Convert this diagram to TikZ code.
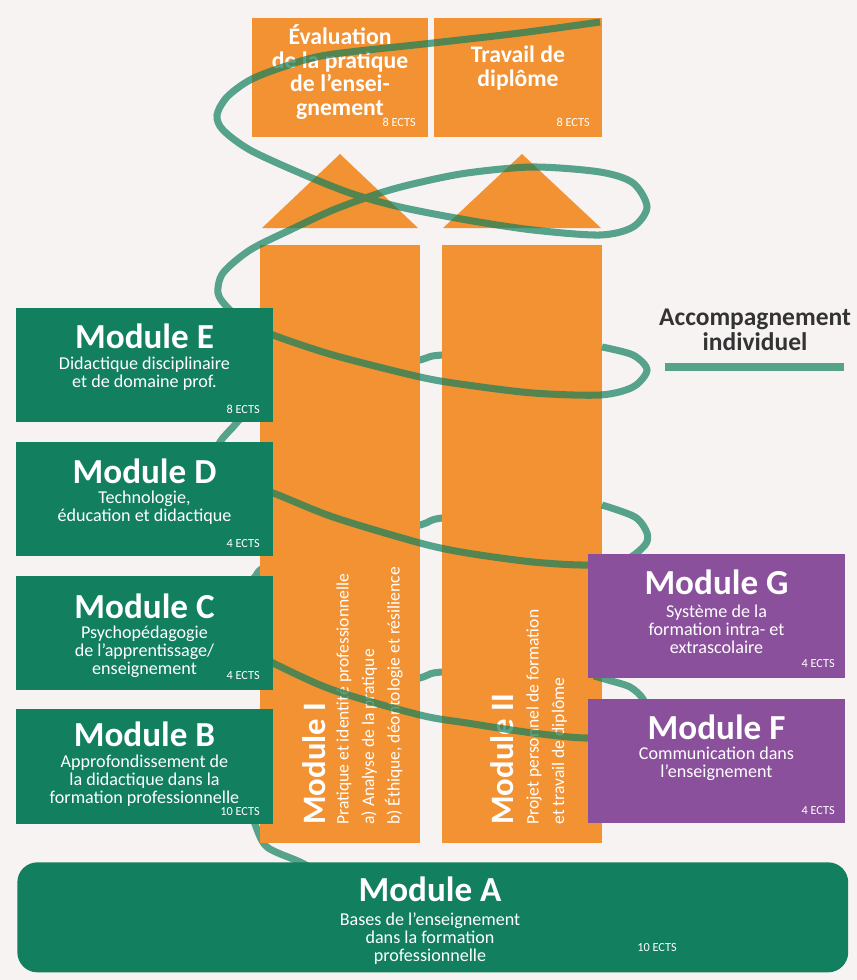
\documentclass[tikz,border=0pt]{standalone}
\usepackage{fontspec}
\setmainfont{Carlito}
\usepackage{xcolor}
\usetikzlibrary{positioning}
\definecolor{bgc}{HTML}{F8F3F3}
\definecolor{ora}{HTML}{F29233}
\definecolor{grn}{HTML}{12805F}
\definecolor{pur}{HTML}{8B509B}
\tikzset{%
	pillar/.style={rectangle,anchor=north west,inner sep=0,fill=ora,minimum width=3.2cm,minimum height=11.96cm},
	topbox/.style={rectangle,anchor=north west,inner sep=0,fill=ora,minimum height=2.38cm},
	gbox/.style={rectangle,anchor=north west,inner sep=0,fill=grn,minimum width=5.14cm},
	pbox/.style={rectangle,anchor=north west,inner sep=0,fill=pur,minimum width=5.14cm,minimum height=2.48cm},
	ttl/.style={text=white,inner sep=0,font=\bfseries\fontsize{20}{20}\selectfont},
	sub/.style={text=white,inner sep=0,align=center,font=\fontsize{10.3}{10.2}\selectfont},
	vttl/.style={text=white,inner sep=0,rotate=90,anchor=base west,font=\bfseries\fontsize{18.6}{18.6}\selectfont},
	vsub/.style={text=white,inner sep=0,align=left,rotate=90,anchor=north west,font=\fontsize{10}{14.5}\selectfont},
	toptxt/.style={text=white,inner sep=0,align=center,font=\bfseries\fontsize{13.5}{13.4}\selectfont},
	ects/.style={text=white,inner sep=0,anchor=base east,font=\fontsize{7}{7}\selectfont},
	spir/.style={line width=4pt,draw=grn,draw opacity=0.7},
}
\begin{document}
\begin{tikzpicture}[x=0.02cm,y=-0.02cm]
	\fill[bgc] (0,0) rectangle (857,980);
	
	\draw[spir] plot[smooth] coordinates {(596,347) (533,350) (442,355) (420,360) (340,385) (270,405) (245,415) (233,427) (220,442) (215,458) (228,475)};
	\draw[spir] plot[smooth] coordinates {(596,505) (533,510) (442,518) (420,525) (340,547) (268,566) (254,578) (240,592) (230,607) (228,625)};
	\draw[spir] plot[smooth] coordinates {(594,676) (533,668) (442,672) (420,678) (340,705) (285,740) (258,775) (250,805) (255,824) (267,847) (300,862) (330,878)};
	
	\node (p1) at (260,245) [pillar] {};
	\node (p2) at (442,245) [pillar] {};
	\fill[ora] (262,228) -- (340,154) -- (418,228) -- cycle;
	\fill[ora] (443,228) -- (522,154) -- (601,228) -- cycle;
	\node (ev) at (252,18) [topbox,minimum width=3.52cm] {};
	\node (tr) at (434,18) [topbox,minimum width=3.36cm] {};
	\node (evt) at (340,72) [toptxt] {Évaluation\\de la pratique\\de l’ensei-\\gnement};
	\node (trt) at (518,68) [toptxt] {Travail de\\diplôme};
	\node (eve) at (416,127) [ects] {8 ECTS};
	\node (tre) at (590,127) [ects] {8 ECTS};
	
	\node (t1) at (325,825) [vttl] {Module I};
	\node (s1) at (336,825) [vsub] {Pratique et identité professionnelle\\a) Analyse de la pratique\\b) Éthique, déontologie et résilience};
	\node (t2) at (513,825) [vttl] {Module II};
	\node (s2) at (526,825) [vsub] {Projet personnel de formation\\et travail de diplôme};
	
	\draw[spir] plot[smooth] coordinates {(600,22) (520,33) (433,43) (327,55) (283,67) (250,80) (227,97) (217,115) (223,130) (250,150) (300,173) (350,193) (400,207) (467,220) (533,230) (600,235) (633,227) (647,207) (633,183) (600,172) (533,167) (467,173) (417,183) (380,193) (333,210) (290,230) (250,250) (223,273) (218,293) (227,307) (245,322) (273,335) (333,355) (420,377) (467,385) (533,393) (600,395) (633,387) (647,370) (633,355) (602,347)};
	\draw[spir] plot[smooth] coordinates {(228,475) (245,486) (273,493) (333,517) (420,543) (467,553) (533,562) (588,565) (625,560) (645,545) (647,533) (635,517) (602,505)};
	\draw[spir] plot[smooth] coordinates {(228,625) (240,645) (273,663) (333,690) (420,715) (467,723) (533,733) (588,738) (625,732) (645,715) (643,699) (630,687) (608,680) (594,676)};
	
	\node (mE) at (16,308) [gbox,minimum height=2.28cm] {};
	\node (mD) at (16,442) [gbox,minimum height=2.28cm] {};
	\node (mC) at (16,576) [gbox,minimum height=2.28cm] {};
	\node (mB) at (16,709) [gbox,minimum height=2.3cm] {};
	\node (mG) at (588,554) [pbox] {};
	\node (mF) at (588,699) [pbox] {};
	\node (mA) at (17,862) [rectangle,anchor=north west,inner sep=0,fill=grn,rounded corners=0.4cm,minimum width=16.62cm,minimum height=2.2cm] {};
	
	\node (tE) at (144.5,336) [ttl] {Module E};
	\node (sE) at (144.5,374) [sub] {Didactique disciplinaire\\et de domaine prof.};
	\node (eE) at (260,413) [ects] {8 ECTS};
	\node (tD) at (144.5,471) [ttl] {Module D};
	\node (sD) at (144.5,508) [sub] {Technologie,\\éducation et didactique};
	\node (eD) at (260,547) [ects] {4 ECTS};
	\node (tC) at (144.5,606) [ttl] {Module C};
	\node (sC) at (144.5,651.5) [sub] {Psychopédagogie\\de l’apprentissage/\\enseignement};
	\node (eC) at (260,679) [ects] {4 ECTS};
	\node (tB) at (144.5,734) [ttl] {Module B};
	\node (sB) at (144.5,781) [sub] {Approfondissement de\\la didactique dans la\\formation professionnelle};
	\node (eB) at (260,815) [ects] {10 ECTS};
	\node (tG) at (716.5,582) [ttl] {Module G};
	\node (sG) at (716.5,629.5) [sub] {Système de la\\formation intra- et\\extrascolaire};
	\node (eG) at (835,667) [ects] {4 ECTS};
	\node (tF) at (716.5,727) [ttl] {Module F};
	\node (sF) at (716.5,764) [sub] {Communication dans\\l’enseignement};
	\node (eF) at (835,814) [ects] {4 ECTS};
	\node (tA) at (430,889) [ttl] {Module A};
	\node (sA) at (430,938.5) [sub] {Bases de l’enseignement\\dans la formation\\professionnelle};
	\node (eA) at (677,951) [ects] {10 ECTS};
	
	\node (acc) at (755,330) [align=center,inner sep=0,text=black!80,font=\bfseries\fontsize{14.5}{14}\selectfont] {Accompagnement\\individuel};
	\coordinate (l0) at (665,367);
	\coordinate (l1) at (844,367);
	\draw[spir] (l0) -- (l1);
\end{tikzpicture}
\end{document}
